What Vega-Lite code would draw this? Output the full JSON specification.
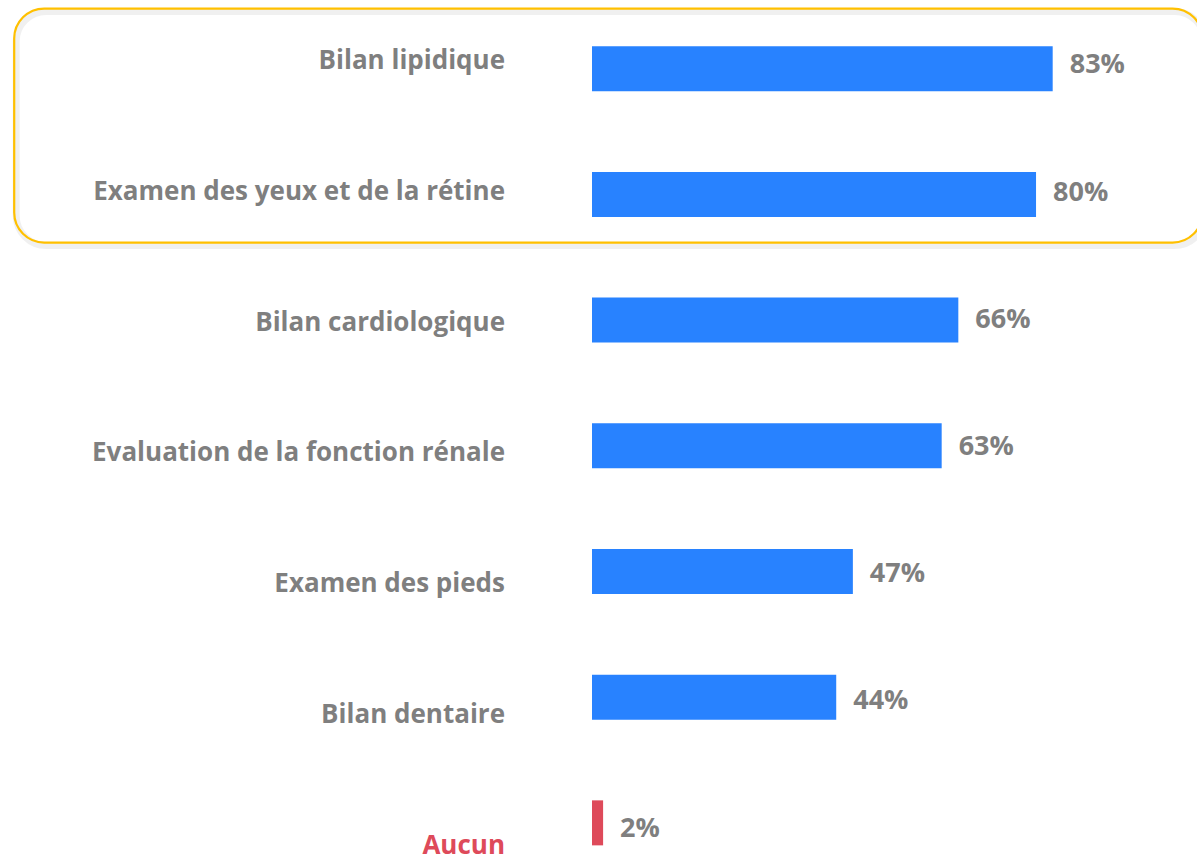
{
  "$schema": "https://vega.github.io/schema/vega-lite/v6.json",
  "autosize": "none",
  "width": 605,
  "height": 858,
  "padding": {"left": 592, "top": 0, "right": 0, "bottom": 0},
  "background": "white",
  "config": {"view": {"stroke": null}},
  "data": {
    "values": [
      {"rank": 1, "label": "Bilan lipidique", "value": 0.83},
      {"rank": 2, "label": "Examen des yeux et de la rétine", "value": 0.80},
      {"rank": 3, "label": "Bilan cardiologique", "value": 0.66},
      {"rank": 4, "label": "Evaluation de la fonction rénale", "value": 0.63},
      {"rank": 5, "label": "Examen des pieds", "value": 0.47},
      {"rank": 6, "label": "Bilan dentaire", "value": 0.44},
      {"rank": 7, "label": "Aucun", "value": 0.02}
    ]
  },
  "resolve": {"scale": {"y": "independent"}},
  "layer": [
    {
      "data": {"values": [{}]},
      "mark": {"type": "rect", "fill": null, "stroke": "#000000", "strokeOpacity": 0.06, "strokeWidth": 7, "cornerRadius": 30, "xOffset": 2, "x2Offset": 2, "yOffset": 3, "y2Offset": 3},
      "encoding": {
        "x": {"datum": -1.041, "type": "quantitative", "scale": {"domain": [0, 1.09], "nice": false, "zero": false}, "axis": null},
        "x2": {"datum": 1.10},
        "y": {"datum": 0.56, "type": "quantitative", "scale": {"domain": [0.4928, 7.2398], "reverse": true, "nice": false, "zero": false}, "axis": null},
        "y2": {"datum": 2.40}
      }
    },
    {
      "data": {"values": [{}]},
      "mark": {"type": "rect", "fill": null, "stroke": "#FFC000", "strokeWidth": 2.2, "cornerRadius": 30},
      "encoding": {
        "x": {"datum": -1.041, "type": "quantitative", "axis": null},
        "x2": {"datum": 1.10},
        "y": {"datum": 0.56, "type": "quantitative", "scale": {"domain": [0.4928, 7.2398], "reverse": true, "nice": false, "zero": false}, "axis": null},
        "y2": {"datum": 2.40}
      }
    },
    {
      "mark": {"type": "bar", "orient": "horizontal", "size": 45},
      "encoding": {
        "x": {"field": "value", "type": "quantitative", "axis": null},
        "y": {"field": "rank", "type": "quantitative", "scale": {"domain": [0.4928, 7.2398], "reverse": true, "nice": false, "zero": false}, "axis": null},
        "color": {"condition": {"test": "datum.label === 'Aucun'", "value": "#DE4A5A"}, "value": "#2882FF"}
      }
    },
    {
      "mark": {"type": "text", "align": "left", "baseline": "middle", "dx": 17, "dy": 1, "font": "Open Sans", "fontWeight": "bold", "fontSize": 27, "color": "#7F7F7F"},
      "encoding": {
        "x": {"field": "value", "type": "quantitative", "axis": null},
        "y": {"field": "rank", "type": "quantitative", "scale": {"domain": [0.4928, 7.2398], "reverse": true, "nice": false, "zero": false}, "axis": null},
        "text": {"field": "value", "type": "quantitative", "format": ".0%"}
      }
    },
    {
      "mark": {"type": "text", "align": "right", "baseline": "middle", "dx": -87, "dy": 1, "font": "Open Sans", "fontWeight": "bold", "fontSize": 26},
      "encoding": {
        "x": {"datum": 0, "type": "quantitative", "axis": null},
        "y": {"field": "rank", "type": "quantitative", "scale": {"domain": [0.5414, 7.0995], "reverse": true, "nice": false, "zero": false}, "axis": null},
        "text": {"field": "label", "type": "nominal"},
        "color": {"condition": {"test": "datum.label === 'Aucun'", "value": "#DE4A5A"}, "value": "#7F7F7F"}
      }
    }
  ]
}
